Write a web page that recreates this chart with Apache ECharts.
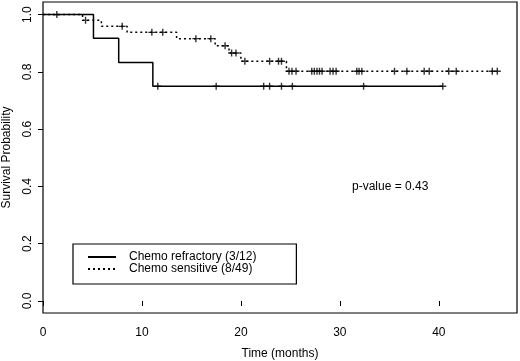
<!DOCTYPE html>
<html>
<head>
<meta charset="utf-8">
<script src="https://cdn.jsdelivr.net/npm/echarts@6/dist/echarts.min.js"></script>
<style>
  html, body { margin: 0; padding: 0; background: #fff; }
  #chart { width: 520px; height: 361px; }
</style>
</head>
<body>
<div id="chart"></div>
<script>
// Kaplan-Meier step points (time in months, survival probability)
const refractoryTimes = [0, 5.1, 7.65, 11.1, 40.4]
const refractorySurv = [1.0, 0.917, 0.833, 0.75, 0.75]
const sensitiveTimes = [0, 4.0, 5.9, 8.5, 13.5, 17.4, 18.8, 20.0, 24.6, 45.9]
const sensitiveSurv = [1.0, 0.98, 0.959, 0.938, 0.916, 0.891, 0.866, 0.837, 0.802, 0.802]

// censored observations ("+" marks)
const refractoryCensorT = [1.4, 11.6, 17.5, 22.3, 22.9, 24.1, 25.2, 32.4, 40.4]
const refractoryCensorS = [1.0, 0.75, 0.75, 0.75, 0.75, 0.75, 0.75, 0.75, 0.75]
const sensitiveCensorT = [4.3, 8.0, 11.0, 12.1, 15.45, 16.96, 18.4, 19.06, 19.5, 20.4, 22.9, 23.8, 24.1,
  24.86, 25.16, 25.57, 27.16, 27.42, 27.69, 27.94, 28.2, 29.01, 29.31, 29.62, 31.71, 31.94, 32.22,
  35.52, 36.77, 38.52, 39.03, 41.0, 41.76, 45.4, 45.91]
const sensitiveCensorS = [0.98, 0.959, 0.938, 0.938, 0.916, 0.916, 0.891, 0.866, 0.866, 0.837, 0.837, 0.837, 0.837,
  0.802, 0.802, 0.802, 0.802, 0.802, 0.802, 0.802, 0.802, 0.802, 0.802, 0.802, 0.802, 0.802, 0.802,
  0.802, 0.802, 0.802, 0.802, 0.802, 0.802, 0.802, 0.802]

const xTicks = [0, 10, 20, 30, 40]
const yTicks = [0, 0.2, 0.4, 0.6, 0.8, 1.0]
const seriesNames = ['Chemo refractory (3/12)', 'Chemo sensitive (8/49)']
const pValueText = 'p-value = 0.43'

const FONT = '"Liberation Sans", Arial, sans-serif'
const zip = (a, b) => a.map((v, i) => [v, b[i]])
const cross = 'path://M0,5L10,5M5,0L5,10'

const chart = echarts.init(document.getElementById('chart'))

const censorStyle = {
  type: 'scatter',
  symbol: cross,
  symbolSize: 7,
  silent: true,
  itemStyle: { color: 'rgba(0,0,0,0)', borderColor: '#000', borderWidth: 1.4 },
  z: 3
}

chart.setOption({
  animation: false,
  textStyle: { fontFamily: FONT },
  grid: {
    left: 43, right: 3, top: 2, bottom: 48,
    outerBoundsMode: 'none',
    containLabel: false,
    show: true, borderColor: '#000', borderWidth: 1.2, backgroundColor: '#fff'
  },
  xAxis: {
    type: 'value',
    min: 0,
    max: 47.9,
    name: 'Time (months)',
    nameLocation: 'middle',
    nameGap: 35,
    nameTextStyle: { color: '#000', fontSize: 12, fontFamily: FONT },
    axisLine: { show: false },
    splitLine: { show: false },
    axisTick: { show: true, length: 5, customValues: xTicks, lineStyle: { color: '#000' } },
    axisLabel: { customValues: xTicks, margin: 14, color: '#000', fontSize: 12, fontFamily: FONT }
  },
  yAxis: {
    type: 'value',
    min: -0.042,
    max: 1.044,
    name: 'Survival Probability',
    nameLocation: 'middle',
    nameGap: 30,
    nameTextStyle: { color: '#000', fontSize: 12, fontFamily: FONT },
    axisLine: { show: false },
    splitLine: { show: false },
    axisTick: { show: true, length: 5, customValues: yTicks, lineStyle: { color: '#000' } },
    axisLabel: {
      customValues: yTicks,
      rotate: 90,
      margin: 9,
      color: '#000',
      fontSize: 12,
      fontFamily: FONT,
      formatter: v => v.toFixed(1)
    }
  },
  legend: {
    data: seriesNames,
    orient: 'vertical',
    left: 73,
    top: 244,
    itemWidth: 28,
    itemHeight: 10,
    itemGap: 0,
    padding: [7, 40, 9, 14],
    borderColor: '#000',
    borderWidth: 1.2,
    backgroundColor: '#fff',
    selectedMode: false,
    itemStyle: { opacity: 0 },
    textStyle: { color: '#000', fontSize: 12, fontFamily: FONT, lineHeight: 10, padding: [0, 0, 0, 8] }
  },
  graphic: [{
    type: 'text',
    left: 352,
    top: 181,
    style: { text: pValueText, fill: '#000', font: '12px ' + FONT }
  }],
  series: [
    {
      name: seriesNames[0],
      type: 'line',
      step: 'end',
      symbol: 'none',
      data: zip(refractoryTimes, refractorySurv),
      lineStyle: { color: '#000', width: 1.5, type: 'solid' },
      itemStyle: { color: '#000' }
    },
    {
      name: seriesNames[1],
      type: 'line',
      step: 'end',
      symbol: 'none',
      data: zip(sensitiveTimes, sensitiveSurv),
      lineStyle: { color: '#000', width: 1.5, type: [2, 3] },
      itemStyle: { color: '#000' }
    },
    Object.assign({ name: 'refractory censored', data: zip(refractoryCensorT, refractoryCensorS) }, censorStyle),
    Object.assign({ name: 'sensitive censored', data: zip(sensitiveCensorT, sensitiveCensorS) }, censorStyle)
  ]
})
</script>
</body>
</html>
